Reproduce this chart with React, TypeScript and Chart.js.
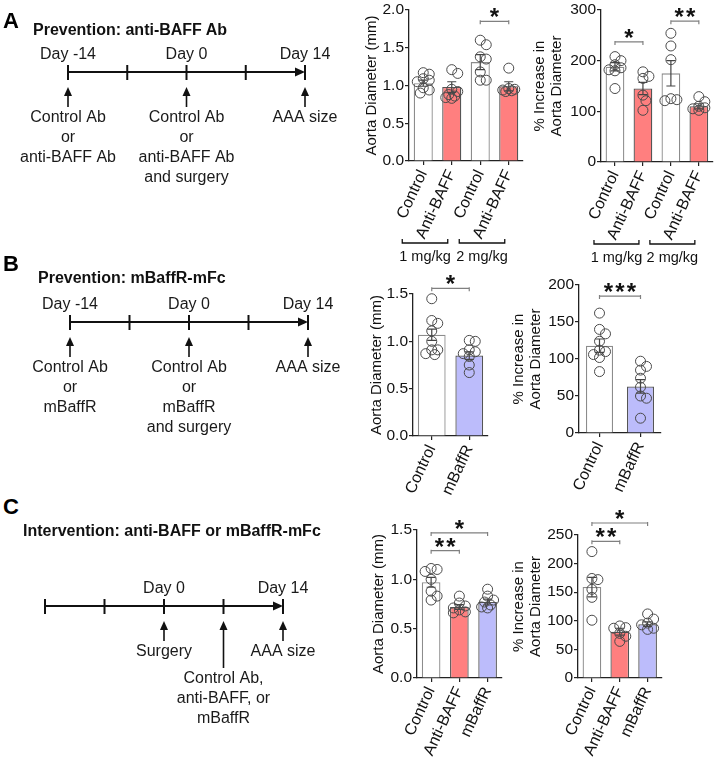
import React, { useEffect, useRef } from 'react';
import { Chart, registerables } from 'chart.js';
Chart.register(...registerables);

const FONT = '"Liberation Sans", Arial, Helvetica, sans-serif';

// ---------------- data ----------------
// Panel A (anti-BAFF Ab, 1 and 2 mg/kg)
const catsA = ['Control', 'Anti-BAFF', 'Control', 'Anti-BAFF'];
const doseGroupsA = [
  { label: '1 mg/kg', from: 0, to: 1 },
  { label: '2 mg/kg', from: 2, to: 3 },
];
const meanA1 = [1.03, 0.98, 1.31, 0.99];
const semA1 = [0.04, 0.07, 0.1, 0.06];
const pointsA1 = [
  [1.17, 1.15, 1.09, 1.07, 1.05, 0.97, 0.94, 0.9],
  [1.21, 1.16, 0.95, 0.92, 0.88, 0.86, 0.84, 0.83],
  [1.6, 1.54, 1.38, 1.35, 1.18, 1.07, 1.07],
  [1.23, 0.96, 0.94, 0.93, 0.92, 0.95],
];
const sigA1 = [{ from: 2, to: 3, y: 1.85, label: '*' }];

const meanA2 = [188, 145, 175, 110];
const semA2 = [8, 12, 25, 5];
const pointsA2 = [
  [208, 200, 192, 186, 182, 180, 145],
  [178, 169, 165, 132, 121, 102],
  [254, 229, 202, 123, 121, 125],
  [129, 119, 107, 102, 105, 110],
];
const sigA2 = [
  { from: 0, to: 1, y: 237, label: '*' },
  { from: 2, to: 3, y: 278, label: '**' },
];

// Panel B (mBaffR-mFc prevention)
const catsB = ['Control', 'mBaffR'];
const meanB1 = [1.07, 0.85];
const semB1 = [0.06, 0.04];
const pointsB1 = [
  [1.45, 1.22, 1.19, 1.11, 1.0, 0.91, 0.87, 0.86, 0.91],
  [1.01, 1.0, 0.91, 0.89, 0.87, 0.84, 0.75, 0.67],
];
const sigB1 = [{ from: 0, to: 1, y: 1.56, label: '*' }];

const meanB2 = [118, 63];
const semB2 = [9, 9];
const pointsB2 = [
  [162, 140, 134, 124, 112, 110, 106, 102, 83],
  [97, 90, 85, 74, 62, 50, 47, 20],
];
const sigB2 = [{ from: 0, to: 1, y: 185, label: '***' }];

// Panel C (intervention)
const catsC = ['Control', 'Anti-BAFF', 'mBaffR'];
const meanC1 = [0.97, 0.72, 0.77];
const semC1 = [0.05, 0.025, 0.03];
const pointsC1 = [
  [1.11, 1.1, 1.08, 1.0, 0.83, 0.79, 0.88],
  [0.83, 0.76, 0.73, 0.71, 0.69, 0.67, 0.66],
  [0.9, 0.83, 0.79, 0.77, 0.72, 0.71, 0.74],
];
const sigC1 = [
  { from: 0, to: 1, y: 1.29, label: '**' },
  { from: 0, to: 2, y: 1.47, label: '*' },
];

const meanC2 = [159, 81, 94];
const semC2 = [17, 6, 4];
const pointsC2 = [
  [221, 174, 172, 155, 141, 101],
  [91, 87, 78, 73, 64, 88],
  [112, 103, 96, 93, 87, 85],
];
const sigC2 = [
  { from: 0, to: 1, y: 239, label: '**' },
  { from: 0, to: 2, y: 271, label: '*' },
];

// Timelines
const timelineDays = [-14, -7, 0, 7, 14];
const dayLabelsAB = [
  { day: -14, text: 'Day -14' },
  { day: 0, text: 'Day 0' },
  { day: 14, text: 'Day 14' },
];
const dayLabelsC = [
  { day: 0, text: 'Day 0' },
  { day: 14, text: 'Day 14' },
];
const eventsA = [
  { day: -14, lines: ['Control Ab', 'or', 'anti-BAFF Ab'] },
  { day: 0, lines: ['Control Ab', 'or', 'anti-BAFF Ab', 'and surgery'] },
  { day: 14, lines: ['AAA size'] },
];
const eventsB = [
  { day: -14, lines: ['Control Ab', 'or', 'mBaffR'] },
  { day: 0, lines: ['Control Ab', 'or', 'mBaffR', 'and surgery'] },
  { day: 14, lines: ['AAA size'] },
];
const eventsC = [
  { day: 0, lines: ['Surgery'] },
  { day: 7, lines: ['Control Ab,', 'anti-BAFF, or', 'mBaffR'], long: true },
  { day: 14, lines: ['AAA size'] },
];

// ---------------- styles ----------------
const FILL: Record<string, string> = { Control: '#ffffff', 'Anti-BAFF': '#ff7f7f', mBaffR: '#bcbcfb' };
const EDGE: Record<string, string> = { Control: '#8c8c8c', 'Anti-BAFF': '#555555', mBaffR: '#555555' };

type Sig = { from: number; to: number; y: number; label: string };
type Group = { label: string; from: number; to: number };
type BarSpec = {
  cats: string[];
  means: number[];
  sem: number[];
  points: number[][];
  sig: Sig[];
  groups?: Group[];
  yMax: number;
  yStep: number;
  decimals: number;
  yTitle: string | string[];
  plot: { left: number; right: number; top: number; bottom: number };
  titleDist: number;
  barPct: number;
};

const YW = 75, PT = 40, PR = 6, XH = 105;

function swarm(ys: number[], minDist: number, step: number, maxOff: number): number[] {
  const order = ys.map((_, i) => i).sort((a, b) => ys[a] - ys[b]);
  const placed: { x: number; y: number }[] = [];
  const out = new Array(ys.length).fill(0);
  for (const i of order) {
    let best = 0, bestScore = -1;
    const nMax = Math.floor(maxOff / step);
    for (let k = 0; k <= nMax * 2; k++) {
      const off = (k % 2 === 1 ? 1 : -1) * Math.ceil(k / 2) * step;
      let dmin = Infinity;
      for (const p of placed) dmin = Math.min(dmin, Math.hypot(p.x - off, p.y - ys[i]));
      if (dmin >= minDist) { best = off; bestScore = Infinity; break; }
      if (dmin > bestScore) { bestScore = dmin; best = off; }
    }
    placed.push({ x: best, y: ys[i] });
    out[i] = best;
  }
  return out;
}

function BarChart({ spec }: { spec: BarSpec }) {
  const ref = useRef<HTMLCanvasElement>(null);
  const { plot } = spec;
  const cl = plot.left - YW, ct = plot.top - PT;
  const cw = plot.right - plot.left + YW + PR, ch = plot.bottom - plot.top + PT + XH;
  useEffect(() => {
    const titleSize = 15, titleLH = 1.1;
    const pad = YW - spec.titleDist - (titleSize * titleLH) / 2;
    const overlay = {
      id: 'overlay',
      afterDatasetsDraw(chart: any) {
        const { ctx, chartArea } = chart;
        const xs = chart.scales.x, ys = chart.scales.y;
        ctx.save();
        // error bars (SEM)
        ctx.strokeStyle = '#444';
        ctx.lineWidth = 1.2;
        spec.means.forEach((m, i) => {
          const x = xs.getPixelForValue(i);
          const yt = ys.getPixelForValue(m + spec.sem[i]);
          const yb = ys.getPixelForValue(m - spec.sem[i]);
          ctx.beginPath();
          ctx.moveTo(x, yb); ctx.lineTo(x, yt);
          ctx.moveTo(x - 4.5, yt); ctx.lineTo(x + 4.5, yt);
          ctx.moveTo(x - 4.5, yb); ctx.lineTo(x + 4.5, yb);
          ctx.stroke();
        });
        // individual points
        ctx.strokeStyle = '#4a4a4a';
        ctx.lineWidth = 1;
        spec.points.forEach((vals, i) => {
          const x0 = xs.getPixelForValue(i);
          const py = vals.map((v) => ys.getPixelForValue(v));
          const offs = swarm(py, 6, 3, 7);
          py.forEach((y, k) => {
            ctx.beginPath();
            ctx.arc(x0 + offs[k], y, 5, 0, Math.PI * 2);
            ctx.stroke();
          });
        });
        // significance bars
        spec.sig.forEach((s) => {
          const x1 = xs.getPixelForValue(s.from), x2 = xs.getPixelForValue(s.to);
          const y = ys.getPixelForValue(s.y);
          ctx.strokeStyle = '#808080';
          ctx.lineWidth = 1.2;
          ctx.beginPath();
          ctx.moveTo(x1, y + 3); ctx.lineTo(x1, y - 1); ctx.moveTo(x1, y);
          ctx.lineTo(x2, y); ctx.moveTo(x2, y + 3); ctx.lineTo(x2, y - 1);
          ctx.stroke();
          const n = s.label.length, cx = (x1 + x2) / 2, gap = 11.5, size = 24;
          ctx.font = `bold ${size}px ${FONT}`;
          ctx.fillStyle = '#111';
          ctx.textAlign = 'center';
          ctx.textBaseline = 'alphabetic';
          for (let k = 0; k < n; k++) {
            ctx.fillText('*', cx + (k - (n - 1) / 2) * gap, y - 10 + 0.58 * size);
          }
        });
        // dose brackets
        (spec.groups || []).forEach((g) => {
          const x1 = xs.getPixelForValue(g.from) - 21, x2 = xs.getPixelForValue(g.to) - 4;
          const y = chartArea.bottom + 82;
          ctx.strokeStyle = '#111';
          ctx.lineWidth = 1.3;
          ctx.beginPath();
          ctx.moveTo(x1, y - 4); ctx.lineTo(x1, y); ctx.lineTo(x2, y); ctx.lineTo(x2, y - 4);
          ctx.stroke();
          ctx.font = `14.5px ${FONT}`;
          ctx.fillStyle = '#111';
          ctx.textAlign = 'center';
          ctx.textBaseline = 'middle';
          ctx.fillText(g.label, (x1 + x2) / 2, y + 14);
        });
        ctx.restore();
      },
    };
    const chart = new Chart(ref.current!, {
      type: 'bar',
      data: {
        labels: spec.cats,
        datasets: [
          {
            data: spec.means,
            backgroundColor: spec.cats.map((c) => FILL[c]),
            borderColor: spec.cats.map((c) => EDGE[c]),
            borderWidth: 1.3,
            barPercentage: spec.barPct,
            categoryPercentage: 1,
          },
        ],
      },
      options: {
        responsive: false,
        animation: false,
        devicePixelRatio: 1,
        events: [],
        layout: { padding: { left: 0, top: PT, right: PR, bottom: 0 } },
        plugins: { legend: { display: false }, tooltip: { enabled: false } },
        scales: {
          x: {
            type: 'category',
            offset: true,
            grid: { display: true, drawOnChartArea: false, drawTicks: true, tickLength: 4, offset: false, color: '#222', lineWidth: 1.2 },
            border: { display: true, color: '#222', width: 1.3 },
            ticks: { autoSkip: false, minRotation: 65, maxRotation: 65, font: { family: FONT, size: 16 }, color: '#111', padding: 2 },
            afterFit: (s: any) => { s.height = XH; },
          },
          y: {
            min: 0,
            max: spec.yMax,
            grid: { display: true, drawOnChartArea: false, drawTicks: true, tickLength: 4, color: '#222', lineWidth: 1.2 },
            border: { display: true, color: '#222', width: 1.3 },
            ticks: {
              stepSize: spec.yStep,
              font: { family: FONT, size: 15.5 },
              color: '#111',
              padding: 1,
              callback: (v: any) => Number(v).toFixed(spec.decimals),
            },
            title: {
              display: true,
              text: spec.yTitle,
              font: { family: FONT, size: titleSize, lineHeight: titleLH },
              color: '#111',
              padding: { top: pad, bottom: 0 },
            },
            afterFit: (s: any) => { s.width = YW; },
          },
        },
      } as any,
      plugins: [overlay],
    });
    return () => chart.destroy();
  }, [spec]);
  return (
    <canvas
      ref={ref}
      width={cw}
      height={ch}
      style={{ position: 'absolute', left: cl, top: ct, width: cw, height: ch }}
    />
  );
}

type TEvent = { day: number; lines: string[]; long?: boolean };
type TimelineSpec = {
  dayLabels: { day: number; text: string }[];
  events: TEvent[];
  left: number;
  right: number;
  lineY: number;
  canvasTop: number;
  canvasHeight: number;
};

const TL_W = 340, TL_PT = 72;

function Timeline({ spec }: { spec: TimelineSpec }) {
  const ref = useRef<HTMLCanvasElement>(null);
  useEffect(() => {
    const draw = {
      id: 'timeline',
      afterDraw(chart: any) {
        const { ctx, chartArea } = chart;
        const xs = chart.scales.x;
        const y0 = chartArea.top;
        const px = (d: number) => xs.getPixelForValue(d);
        ctx.save();
        ctx.strokeStyle = '#111';
        ctx.fillStyle = '#111';
        const xa = px(timelineDays[0]), xb = px(timelineDays[timelineDays.length - 1]);
        ctx.lineWidth = 2;
        ctx.beginPath();
        ctx.moveTo(xa, y0); ctx.lineTo(xb - 6, y0);
        ctx.stroke();
        ctx.beginPath();
        ctx.moveTo(xb, y0); ctx.lineTo(xb - 10, y0 - 4.5); ctx.lineTo(xb - 10, y0 + 4.5);
        ctx.closePath();
        ctx.fill();
        timelineDays.forEach((d) => {
          const x = px(d);
          ctx.beginPath();
          ctx.moveTo(x, y0 - 7); ctx.lineTo(x, y0 + 8);
          ctx.stroke();
        });
        ctx.font = `16px ${FONT}`;
        ctx.textAlign = 'center';
        ctx.textBaseline = 'middle';
        ctx.fillStyle = '#1a1a1a';
        spec.dayLabels.forEach((l) => ctx.fillText(l.text, px(l.day), y0 - 17));
        spec.events.forEach((ev) => {
          const x = px(ev.day);
          const tip = y0 + 15;
          const bottom = y0 + 35 + (ev.long ? 27 : 0);
          ctx.lineWidth = 1.6;
          ctx.strokeStyle = '#111';
          ctx.fillStyle = '#111';
          ctx.beginPath();
          ctx.moveTo(x, tip + 6); ctx.lineTo(x, bottom);
          ctx.stroke();
          ctx.beginPath();
          ctx.moveTo(x, tip); ctx.lineTo(x - 4, tip + 9); ctx.lineTo(x + 4, tip + 9);
          ctx.closePath();
          ctx.fill();
          ctx.fillStyle = '#1a1a1a';
          ev.lines.forEach((t, k) => ctx.fillText(t, x, bottom + 11 + k * 19.7));
        });
        ctx.restore();
      },
    };
    const chart = new Chart(ref.current!, {
      type: 'scatter',
      data: { datasets: [] },
      options: {
        responsive: false,
        animation: false,
        devicePixelRatio: 1,
        events: [],
        layout: { padding: { left: spec.left, right: TL_W - spec.right, top: TL_PT, bottom: spec.canvasHeight - TL_PT - 30 } },
        plugins: { legend: { display: false }, tooltip: { enabled: false } },
        scales: {
          x: { type: 'linear', min: -14, max: 14, display: false },
          y: { type: 'linear', min: 0, max: 1, display: false },
        },
      } as any,
      plugins: [draw],
    });
    return () => chart.destroy();
  }, [spec]);
  return (
    <canvas
      ref={ref}
      width={TL_W}
      height={spec.canvasHeight}
      style={{ position: 'absolute', left: 0, top: spec.canvasTop, width: TL_W, height: spec.canvasHeight }}
    />
  );
}

const specA1: BarSpec = {
  cats: catsA, means: meanA1, sem: semA1, points: pointsA1, sig: sigA1, groups: doseGroupsA,
  yMax: 2, yStep: 0.5, decimals: 1, yTitle: 'Aorta Diameter (mm)',
  plot: { left: 409, right: 523, top: 10, bottom: 161 }, titleDist: 37, barPct: 0.67,
};
const specA2: BarSpec = {
  cats: catsA, means: meanA2, sem: semA2, points: pointsA2, sig: sigA2, groups: doseGroupsA,
  yMax: 300, yStep: 100, decimals: 0, yTitle: ['% Increase in', 'Aorta Diameter'],
  plot: { left: 601, right: 713, top: 10, bottom: 162 }, titleDist: 61, barPct: 0.67,
};
const specB1: BarSpec = {
  cats: catsB, means: meanB1, sem: semB1, points: pointsB1, sig: sigB1,
  yMax: 1.5, yStep: 0.5, decimals: 1, yTitle: 'Aorta Diameter (mm)',
  plot: { left: 413, right: 488, top: 294, bottom: 436 }, titleDist: 36, barPct: 0.74,
};
const specB2: BarSpec = {
  cats: catsB, means: meanB2, sem: semB2, points: pointsB2, sig: sigB2,
  yMax: 200, yStep: 50, decimals: 0, yTitle: ['% Increase in', 'Aorta Diameter'],
  plot: { left: 579, right: 661, top: 285, bottom: 433 }, titleDist: 60, barPct: 0.66,
};
const specC1: BarSpec = {
  cats: catsC, means: meanC1, sem: semC1, points: pointsC1, sig: sigC1,
  yMax: 1.5, yStep: 0.5, decimals: 1, yTitle: 'Aorta Diameter (mm)',
  plot: { left: 417, right: 502, top: 530, bottom: 678 }, titleDist: 38, barPct: 0.66,
};
const specC2: BarSpec = {
  cats: catsC, means: meanC2, sem: semC2, points: pointsC2, sig: sigC2,
  yMax: 250, yStep: 50, decimals: 0, yTitle: ['% Increase in', 'Aorta Diameter'],
  plot: { left: 578, right: 662, top: 535, bottom: 678 }, titleDist: 59, barPct: 0.67,
};

const tlA: TimelineSpec = { dayLabels: dayLabelsAB, events: eventsA, left: 68, right: 305, lineY: 72, canvasTop: 0, canvasHeight: 200 };
const tlB: TimelineSpec = { dayLabels: dayLabelsAB, events: eventsB, left: 70, right: 308, lineY: 322, canvasTop: 250, canvasHeight: 200 };
const tlC: TimelineSpec = { dayLabels: dayLabelsC, events: eventsC, left: 45, right: 283, lineY: 606, canvasTop: 534, canvasHeight: 225 };

const letterStyle = (top: number): React.CSSProperties => ({
  position: 'absolute', left: 3, top, fontFamily: FONT, fontWeight: 700, fontSize: 22, lineHeight: '22px', color: '#000', whiteSpace: 'nowrap',
});
const titleStyle = (left: number, top: number): React.CSSProperties => ({
  position: 'absolute', left, top, fontFamily: FONT, fontWeight: 700, fontSize: 16, lineHeight: '16px', color: '#111', whiteSpace: 'nowrap',
});

export default function App() {
  return (
    <div style={{ position: 'absolute', left: 0, top: 0, width: 714, height: 759, overflow: 'hidden', background: '#fff' }}>
      <Timeline spec={tlA} />
      <Timeline spec={tlB} />
      <Timeline spec={tlC} />
      <div style={letterStyle(9.5)}>A</div>
      <div style={titleStyle(33, 22)}>Prevention: anti-BAFF Ab</div>
      <div style={letterStyle(252.5)}>B</div>
      <div style={titleStyle(38, 269.5)}>Prevention: mBaffR-mFc</div>
      <div style={letterStyle(496)}>C</div>
      <div style={titleStyle(23, 523)}>Intervention: anti-BAFF or mBaffR-mFc</div>
      <BarChart spec={specA1} />
      <BarChart spec={specA2} />
      <BarChart spec={specB1} />
      <BarChart spec={specB2} />
      <BarChart spec={specC1} />
      <BarChart spec={specC2} />
    </div>
  );
}
